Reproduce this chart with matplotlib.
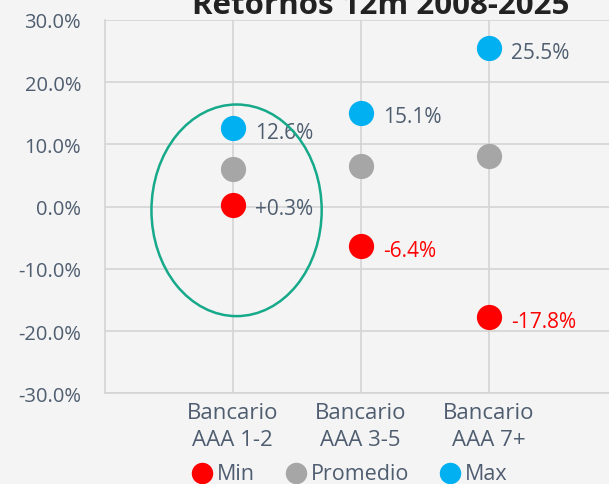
import matplotlib.pyplot as plt
from matplotlib.patches import Ellipse

categories = ['Bancario\nAAA 1-2', 'Bancario\nAAA 3-5', 'Bancario\nAAA 7+']
min_vals = [0.3, -6.4, -17.8]
avg_vals = [6.0, 6.6, 8.1]
max_vals = [12.6, 15.1, 25.5]
min_labels = ['+0.3%', '-6.4%', '-17.8%']
max_labels = ['12.6%', '15.1%', '25.5%']
y_ticks = [-30, -20, -10, 0, 10, 20, 30]

RED = '#ff0000'
GREY = '#a6a6a6'
BLUE = '#00b0f0'
SLATE = '#4f5d70'
BG = '#f4f4f4'

plt.rcParams['font.family'] = ['Open Sans', 'DejaVu Sans']

fig = plt.figure(figsize=(6.09, 4.85), dpi=100, facecolor=BG)
ax = fig.add_axes([0.172, 0.187, 0.828, 0.770], facecolor=BG)

x = list(range(len(categories)))
ax.scatter(x, min_vals, s=330, color=RED, zorder=3, label='Min', linewidths=0)
ax.scatter(x, avg_vals, s=330, color=GREY, zorder=3, label='Promedio', linewidths=0)
ax.scatter(x, max_vals, s=330, color=BLUE, zorder=3, label='Max', linewidths=0)

for i, (v, t) in enumerate(zip(max_vals, max_labels)):
    ax.annotate(t, (i, v), xytext=(16, -3), textcoords='offset points',
                va='center', ha='left', fontsize=15, color=SLATE)
for i, (v, t) in enumerate(zip(min_vals, min_labels)):
    c = SLATE if i == 0 else RED
    ax.annotate(t, (i, v), xytext=(16, -3), textcoords='offset points',
                va='center', ha='left', fontsize=15, color=c)

ax.add_patch(Ellipse((0.03, -0.6), 1.33, 34.0, fill=False,
                     edgecolor='#16a98a', linewidth=1.8, zorder=4))

ax.set_xlim(-1, 2.94)
ax.set_ylim(-30, 30)
ax.set_xticks(x)
ax.set_xticklabels(categories, fontsize=16, color=SLATE, linespacing=1.4)
ax.set_yticks(y_ticks)
ax.set_yticklabels([f'{v:.1f}%' for v in y_ticks], fontsize=14.5, color=SLATE)
ax.tick_params(axis='both', length=0)
ax.tick_params(axis='y', pad=17)
ax.tick_params(axis='x', pad=6)
ax.grid(True, color='#d4d4d4', linewidth=1.2, zorder=0)
ax.set_axisbelow(True)
for side in ['top', 'right']:
    ax.spines[side].set_visible(False)
for side in ['left', 'bottom']:
    ax.spines[side].set_color('#d4d4d4')
    ax.spines[side].set_linewidth(1.2)

fig.text(0.625, 0.988, 'Retornos 12m 2008-2025', ha='center', va='center',
         fontsize=22.5, fontweight='bold', color='#222222')

fig.legend(loc='lower center', bbox_to_anchor=(0.565, -0.04), ncol=3,
           frameon=False, fontsize=15.5, handletextpad=-0.3, columnspacing=0.9,
           labelcolor=SLATE, markerscale=0.85)

fig.savefig('out.png', dpi=100, facecolor=BG)
